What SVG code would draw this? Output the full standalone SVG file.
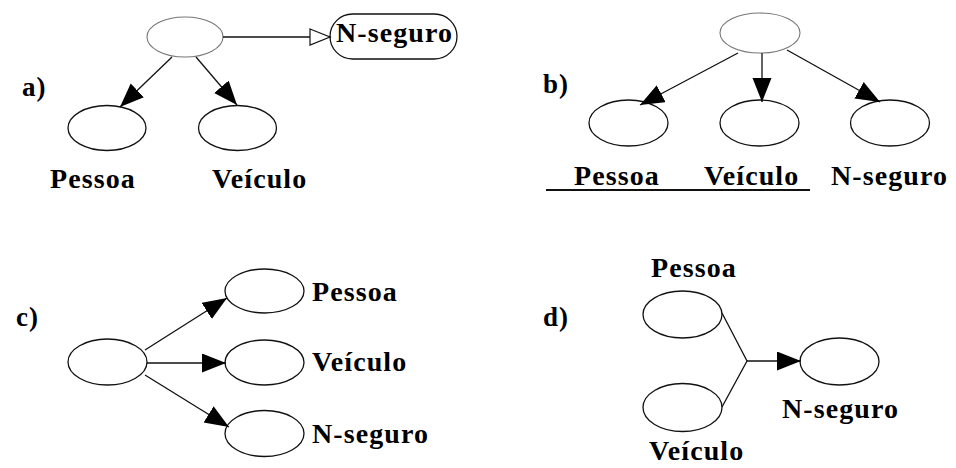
<svg xmlns="http://www.w3.org/2000/svg" width="956" height="468" viewBox="0 0 956 468">
  <defs>
    <style>
      .node { fill: #fff; stroke: #111; stroke-width: 1.3; }
      .node.faint { stroke: #777; stroke-width: 1.1; }
      .edge { fill: none; stroke: #111; stroke-width: 1.3; }
      .lbl { font-family: "Liberation Serif", "Times New Roman", serif; font-weight: bold; font-size: 28px; letter-spacing: 1.1px; fill: #000; }
      .tag { font-family: "Liberation Serif", "Times New Roman", serif; font-weight: bold; font-size: 27px; letter-spacing: 1px; fill: #000; }
    </style>
    <marker id="solid" markerUnits="userSpaceOnUse" markerWidth="26" markerHeight="20" refX="24" refY="9.5" orient="auto">
      <path d="M0,0 L24,9.5 L0,19 Z" fill="#000"/>
    </marker>
    <marker id="hollow" markerUnits="userSpaceOnUse" markerWidth="24" markerHeight="20" refX="22" refY="9" orient="auto">
      <path d="M1,1 L21,9 L1,17 Z" fill="#fff" stroke="#111" stroke-width="1.2"/>
    </marker>
  </defs>

  <!-- panel a -->
  <text class="tag" x="22" y="96">a)</text>
  <g id="a-root"><ellipse class="node faint" cx="185" cy="37" rx="38" ry="20"/></g>
  <g id="a-nseguro">
    <rect class="node" x="330" y="14" width="127" height="45" rx="22.5" ry="22.5"/>
    <text class="lbl" x="336" y="42">N-seguro</text>
  </g>
  <g id="a-pessoa">
    <ellipse class="node" cx="107" cy="128" rx="39" ry="22.5"/>
    <text class="lbl" x="50" y="188">Pessoa</text>
  </g>
  <g id="a-veiculo">
    <ellipse class="node" cx="237.5" cy="128" rx="39" ry="22.5"/>
    <text class="lbl" x="212" y="188">Veículo</text>
  </g>

  <!-- panel b -->
  <text class="tag" x="543" y="93">b)</text>
  <g id="b-root"><ellipse class="node faint" cx="760" cy="33" rx="40" ry="20"/></g>
  <g id="b-pessoa">
    <ellipse class="node" cx="628.5" cy="123" rx="39.5" ry="23"/>
    <text class="lbl" x="574" y="185">Pessoa</text>
  </g>
  <g id="b-veiculo">
    <ellipse class="node" cx="759.5" cy="123" rx="39.5" ry="23"/>
    <text class="lbl" x="704" y="185">Veículo</text>
  </g>
  <g id="b-nseguro">
    <ellipse class="node" cx="890" cy="123" rx="39.5" ry="23"/>
    <text class="lbl" x="831" y="185">N-seguro</text>
  </g>
  <line x1="546" y1="190" x2="810" y2="190" stroke="#111" stroke-width="2"/>

  <!-- panel c -->
  <text class="tag" x="16" y="326">c)</text>
  <g id="c-root"><ellipse class="node" cx="107.5" cy="362" rx="39.5" ry="23"/></g>
  <g id="c-pessoa">
    <ellipse class="node" cx="264.5" cy="291" rx="39.5" ry="22"/>
    <text class="lbl" x="312" y="301">Pessoa</text>
  </g>
  <g id="c-veiculo">
    <ellipse class="node" cx="264.5" cy="362.5" rx="39.5" ry="22.5"/>
    <text class="lbl" x="312" y="371">Veículo</text>
  </g>
  <g id="c-nseguro">
    <ellipse class="node" cx="264.5" cy="433.5" rx="39.5" ry="23"/>
    <text class="lbl" x="312" y="443">N-seguro</text>
  </g>

  <!-- panel d -->
  <text class="tag" x="543" y="326">d)</text>
  <g id="d-pessoa">
    <ellipse class="node" cx="682.5" cy="314.5" rx="39.5" ry="23.5"/>
    <text class="lbl" x="651" y="277">Pessoa</text>
  </g>
  <g id="d-veiculo">
    <ellipse class="node" cx="682.5" cy="407.5" rx="39.5" ry="24"/>
    <text class="lbl" x="649" y="460">Veículo</text>
  </g>
  <g id="d-nseguro">
    <ellipse class="node" cx="839.5" cy="361.5" rx="39.5" ry="23.5"/>
    <text class="lbl" x="782" y="418">N-seguro</text>
  </g>

  <!-- connectors -->
  <g id="connectors">
    <line class="edge" x1="223" y1="37" x2="331" y2="37" marker-end="url(#hollow)"/>
    <line class="edge" x1="172" y1="57" x2="120" y2="107" marker-end="url(#solid)"/>
    <line class="edge" x1="196" y1="57" x2="237" y2="105" marker-end="url(#solid)" stroke="#444"/>

    <line class="edge" x1="738" y1="53" x2="640" y2="105" marker-end="url(#solid)"/>
    <line class="edge" x1="762" y1="53" x2="762" y2="102" marker-end="url(#solid)"/>
    <line class="edge" x1="787" y1="50" x2="880" y2="102" marker-end="url(#solid)"/>

    <line class="edge" x1="145" y1="350" x2="227" y2="298" marker-end="url(#solid)"/>
    <line class="edge" x1="147" y1="363" x2="226" y2="363" marker-end="url(#solid)"/>
    <line class="edge" x1="145" y1="375" x2="229" y2="427" marker-end="url(#solid)"/>

    <polyline class="edge" points="722,313 747,361 722,407"/>
    <line class="edge" x1="747" y1="361" x2="801" y2="361" marker-end="url(#solid)"/>
  </g>
</svg>
